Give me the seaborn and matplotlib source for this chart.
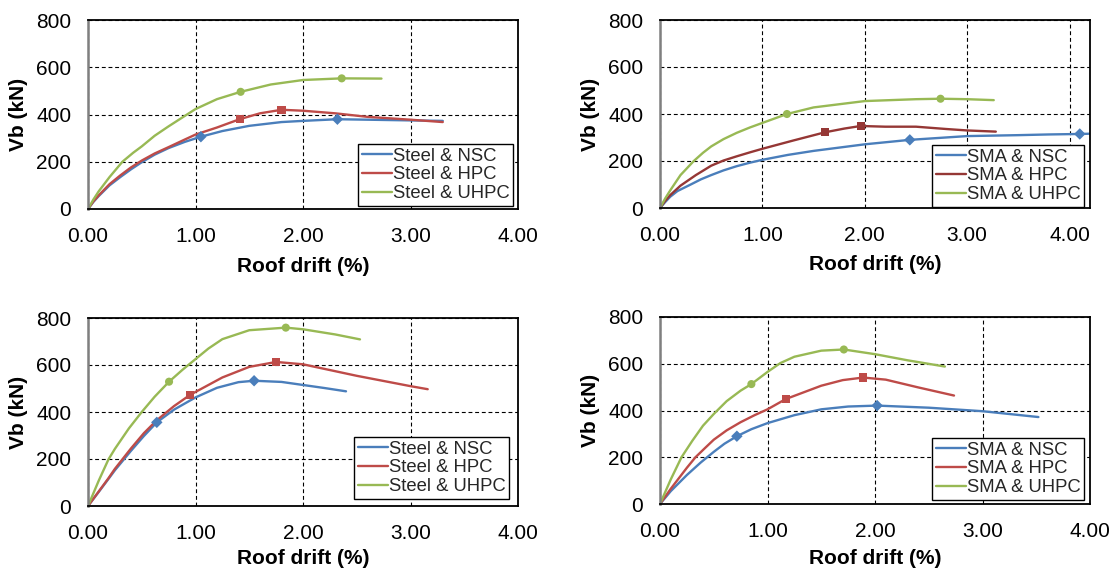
import numpy as np
import pandas as pd
import seaborn as sns
import matplotlib.pyplot as plt
from matplotlib.ticker import FormatStrFormatter
from matplotlib.lines import Line2D

# ---------------- data ----------------
# Panel A : Steel, top-left
a_nsc_x = [0, 0.05, 0.1, 0.2, 0.3, 0.4, 0.5, 0.62, 0.75, 0.9, 1.05, 1.25, 1.5, 1.8, 2.0, 2.32, 2.6, 3.0, 3.3]
a_nsc_y = [0, 30, 55, 100, 135, 168, 198, 230, 258, 284, 306, 330, 352, 368, 373, 380, 378, 375, 373]
a_hpc_x = [0, 0.05, 0.1, 0.2, 0.3, 0.4, 0.5, 0.62, 0.75, 0.9, 1.0, 1.2, 1.41, 1.6, 1.8, 2.0, 2.3, 2.6, 3.0, 3.3]
a_hpc_y = [0, 32, 58, 105, 142, 176, 205, 235, 262, 294, 315, 345, 380, 405, 420, 416, 405, 390, 378, 368]
a_uhpc_x = [0, 0.05, 0.1, 0.2, 0.32, 0.42, 0.5, 0.62, 0.75, 0.88, 1.0, 1.2, 1.42, 1.7, 2.0, 2.36, 2.73]
a_uhpc_y = [0, 40, 75, 135, 200, 238, 265, 310, 350, 388, 423, 465, 496, 527, 546, 553, 552]
a_mk_nsc = ([1.05, 2.32], [306, 380])
a_mk_hpc = ([1.41, 1.80], [380, 420])
a_mk_uhpc = ([1.42, 2.36], [496, 553])

# Panel B : SMA, top-right
b_nsc_x = [0, 0.05, 0.1, 0.17, 0.3, 0.4, 0.5, 0.62, 0.75, 0.88, 1.0, 1.25, 1.5, 2.0, 2.44, 3.0, 3.5, 3.8, 4.1, 4.19]
b_nsc_y = [0, 25, 48, 72, 100, 122, 140, 160, 178, 193, 205, 226, 243, 271, 290, 306, 310, 313, 315, 316]
b_hpc_x = [0, 0.05, 0.1, 0.2, 0.35, 0.5, 0.62, 0.75, 0.88, 1.0, 1.3, 1.61, 1.8, 1.96, 2.2, 2.5, 2.8, 3.0, 3.28]
b_hpc_y = [0, 30, 55, 95, 140, 180, 202, 220, 237, 252, 287, 322, 338, 349, 346, 346, 336, 330, 325]
b_uhpc_x = [0, 0.05, 0.1, 0.2, 0.33, 0.42, 0.5, 0.62, 0.75, 0.88, 1.0, 1.24, 1.5, 2.0, 2.5, 2.74, 3.0, 3.26]
b_uhpc_y = [0, 40, 75, 140, 200, 235, 262, 293, 320, 343, 362, 400, 428, 455, 463, 465, 463, 459]
b_mk_nsc = ([2.44, 4.10], [290, 315])
b_mk_hpc = ([1.61, 1.96], [322, 349])
b_mk_uhpc = ([1.24, 2.74], [400, 465])

# Panel C : Steel, bottom-left
c_nsc_x = [0, 0.1, 0.19, 0.25, 0.4, 0.52, 0.64, 0.8, 1.0, 1.2, 1.4, 1.545, 1.8, 2.0, 2.2, 2.4]
c_nsc_y = [0, 60, 115, 152, 235, 298, 356, 410, 462, 503, 527, 533, 528, 515, 502, 488]
c_hpc_x = [0, 0.1, 0.19, 0.25, 0.4, 0.52, 0.64, 0.8, 0.95, 1.1, 1.25, 1.5, 1.75, 2.0, 2.5, 3.0, 3.16]
c_hpc_y = [0, 62, 118, 158, 245, 310, 365, 425, 473, 510, 547, 592, 613, 603, 554, 510, 497]
c_uhpc_x = [0, 0.1, 0.19, 0.25, 0.38, 0.5, 0.62, 0.754, 0.88, 1.0, 1.12, 1.25, 1.5, 1.84, 2.0, 2.3, 2.53]
c_uhpc_y = [0, 108, 198, 243, 330, 400, 465, 529, 580, 625, 670, 710, 748, 759, 752, 730, 709]
c_mk_nsc = ([0.64, 1.545], [356, 533])
c_mk_hpc = ([0.95, 1.75], [473, 613])
c_mk_uhpc = ([0.754, 1.84], [529, 759])

# Panel D : SMA, bottom-right
d_nsc_x = [0, 0.1, 0.25, 0.38, 0.5, 0.6, 0.715, 0.85, 1.0, 1.25, 1.5, 1.75, 2.02, 2.5, 3.0, 3.52]
d_nsc_y = [0, 55, 124, 178, 223, 258, 290, 320, 346, 380, 405, 417, 421, 412, 397, 372]
d_hpc_x = [0, 0.1, 0.25, 0.33, 0.42, 0.5, 0.62, 0.75, 0.88, 1.0, 1.17, 1.5, 1.7, 1.89, 2.1, 2.4, 2.735]
d_hpc_y = [0, 65, 155, 200, 240, 275, 315, 350, 380, 405, 449, 506, 530, 541, 532, 499, 464]
d_uhpc_x = [0, 0.1, 0.2, 0.3, 0.4, 0.5, 0.62, 0.75, 0.85, 1.0, 1.12, 1.25, 1.5, 1.71, 2.0, 2.3, 2.65]
d_uhpc_y = [0, 105, 200, 270, 335, 385, 440, 485, 513, 565, 603, 630, 656, 661, 641, 615, 588]
d_mk_nsc = ([0.715, 2.02], [290, 421])
d_mk_hpc = ([1.17, 1.89], [449, 541])
d_mk_uhpc = ([0.85, 1.71], [513, 661])

x_ticks = [0, 1, 2, 3, 4]
y_ticks = [0, 200, 400, 600, 800]
x_label = "Roof drift (%)"
y_label = "Vb (kN)"

# ---------------- style ----------------
sns.set_theme(style="white")
plt.rcParams['font.family'] = ['Liberation Sans', 'DejaVu Sans']

BLUE = "#4A7EBB"
RED = "#BE4B48"
DARKRED = "#953735"
GREEN = "#98B954"

W, H = 1116, 571
fig = plt.figure(figsize=(W / 100, H / 100), dpi=100)


def add_ax(l, r, t, b):
    return fig.add_axes([l / W, 1 - b / H, (r - l) / W, (b - t) / H])


def draw_panel(ax, prefix, lines, marks, colors, xmax, legend_px, box, xlab_off):
    keys = list(lines.keys())
    frames = [pd.DataFrame({"x": xs, "y": ys, "s": k}) for k, (xs, ys) in lines.items()]
    df = pd.concat(frames, ignore_index=True)
    pal = dict(zip(keys, colors))
    sns.lineplot(data=df, x="x", y="y", hue="s", palette=pal, sort=False,
                 estimator=None, units="s", linewidth=1.7, ax=ax, legend=False)
    mframes = [pd.DataFrame({"x": xs, "y": ys, "s": k}) for k, (xs, ys) in zip(keys, marks)]
    mdf = pd.concat(mframes, ignore_index=True)
    sns.scatterplot(data=mdf, x="x", y="y", hue="s", palette=pal, style="s",
                    markers={keys[0]: "D", keys[1]: "s", keys[2]: "o"},
                    s=34, linewidth=0, ax=ax, legend=False, zorder=5)
    ax.set_xlim(0, xmax)
    ax.set_ylim(0, 800)
    ax.set_xticks(x_ticks)
    ax.set_yticks(y_ticks)
    ax.xaxis.set_major_formatter(FormatStrFormatter("%.2f"))
    ax.grid(True, color="black", linestyle=(0, (3.5, 2.5)), linewidth=0.8)
    ax.set_axisbelow(True)
    for s in ax.spines.values():
        s.set_color("black")
        s.set_linewidth(1.3)
        s.set_visible(True)
    ax.spines["left"].set_color("#7f7f7f")
    ax.spines["left"].set_linewidth(1.8)
    ax.tick_params(axis="y", length=0, labelsize=15, colors="black", pad=12)
    ax.tick_params(axis="x", length=0, labelsize=15, colors="black", pad=13)
    ax.set_xlabel(x_label, fontsize=15, fontweight="bold", color="black")
    ax.set_ylabel(y_label, fontsize=15, fontweight="bold", color="black")
    l, r, t, b = box
    ax.xaxis.set_label_coords(0.5, -xlab_off / (b - t))
    ax.xaxis.label.set_va("center")
    ax.yaxis.set_label_coords(-69 / (r - l), 0.5)
    ax.yaxis.label.set_va("center")
    handles = [Line2D([], [], color=c, linewidth=1.7) for c in colors]
    labels = [f"{prefix} & {k}" for k in keys]
    lx, ly = legend_px
    leg = ax.legend(handles, labels, loc="lower right",
                    bbox_to_anchor=((lx - l) / (r - l), (b - ly) / (b - t)),
                    fontsize=13.3, frameon=True, fancybox=False, framealpha=1,
                    edgecolor="black", borderpad=0.2, labelspacing=0.1,
                    handlelength=1.6, handletextpad=0.05, borderaxespad=0)
    leg.get_frame().set_linewidth(1.0)


boxA = (88, 518, 20, 209)
axA = add_ax(*boxA)
draw_panel(axA, "Steel",
           {"NSC": (a_nsc_x, a_nsc_y), "HPC": (a_hpc_x, a_hpc_y), "UHPC": (a_uhpc_x, a_uhpc_y)},
           [a_mk_nsc, a_mk_hpc, a_mk_uhpc], [BLUE, RED, GREEN], 4.0, (513, 206), boxA, 57)

boxB = (660, 1090, 20, 208)
axB = add_ax(*boxB)
draw_panel(axB, "SMA",
           {"NSC": (b_nsc_x, b_nsc_y), "HPC": (b_hpc_x, b_hpc_y), "UHPC": (b_uhpc_x, b_uhpc_y)},
           [b_mk_nsc, b_mk_hpc, b_mk_uhpc], [BLUE, DARKRED, GREEN], 4.2, (1084, 207), boxB, 57)

boxC = (88, 518, 318, 506)
axC = add_ax(*boxC)
draw_panel(axC, "Steel",
           {"NSC": (c_nsc_x, c_nsc_y), "HPC": (c_hpc_x, c_hpc_y), "UHPC": (c_uhpc_x, c_uhpc_y)},
           [c_mk_nsc, c_mk_hpc, c_mk_uhpc], [BLUE, RED, GREEN], 4.0, (509, 499), boxC, 52)

boxD = (660, 1090, 317, 504)
axD = add_ax(*boxD)
draw_panel(axD, "SMA",
           {"NSC": (d_nsc_x, d_nsc_y), "HPC": (d_hpc_x, d_hpc_y), "UHPC": (d_uhpc_x, d_uhpc_y)},
           [d_mk_nsc, d_mk_hpc, d_mk_uhpc], [BLUE, RED, GREEN], 4.0, (1084, 500), boxD, 54)

fig.savefig("out.png", dpi=100, facecolor="white")
